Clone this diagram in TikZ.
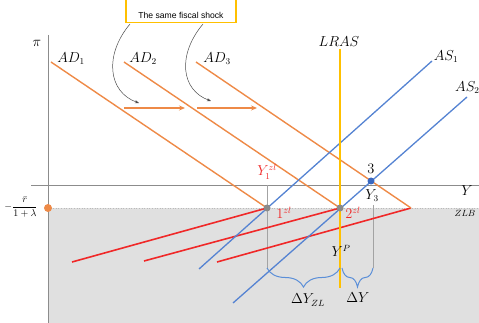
\documentclass[tikz,border=0pt]{standalone}
\usepackage{fontspec}
\newfontfamily\shockfont{Liberation Sans}
\usetikzlibrary{arrows.meta,decorations.pathreplacing,calc}
\definecolor{adorange}{HTML}{EE8A47}
\definecolor{asblue}{HTML}{5583D2}
\definecolor{zlred}{HTML}{F02828}
\definecolor{lrasgold}{HTML}{FFC000}
\definecolor{zlbgray}{HTML}{E0E0E0}
\definecolor{axisgray}{HTML}{8C8C8C}
\definecolor{bracebl}{HTML}{5B8FD8}
\definecolor{dotgray}{HTML}{8A8A8A}
\definecolor{dotblue}{HTML}{3A68C0}
\definecolor{boxyellow}{HTML}{FFC000}
\tikzset{
 adline/.style={draw=adorange, line width=1.4pt},
 zlline/.style={draw=zlred, line width=1.6pt},
 asline/.style={draw=asblue, line width=1.3pt},
 lrasline/.style={draw=lrasgold, line width=2pt},
 axisline/.style={draw=axisgray, line width=0.9pt},
 guide/.style={draw=axisgray!80, line width=0.5pt},
 lbl/.style={font=\fontsize{13.5}{15}\selectfont, inner sep=0pt},
 redlbl/.style={lbl, text=zlred},
 ptdot/.style={circle, inner sep=0pt, minimum size=8pt},
 shockarrow/.style={draw=black!70, line width=0.5pt, -{Stealth[length=4pt,width=3pt]}},
 shiftarrow/.style={draw=adorange, line width=1.2pt, -{Stealth[length=6pt,width=5pt]}},
 bracestyle/.style={draw=bracebl, line width=1pt, decorate, decoration={brace, mirror, amplitude=19pt}},
}
\begin{document}
\begin{tikzpicture}[x=1pt,y=-1pt]
\useasboundingbox (0,0) rectangle (479,323);
% ZLB region
\fill[zlbgray] (48,208) rectangle (479,323);
\coordinate (zlbl) at (48,208);
\coordinate (zlbr) at (479,208);
\draw[axisgray!60, dotted, line width=0.6pt] (zlbl) -- (zlbr);
% axes
\coordinate (ytop) at (48,35);
\coordinate (ybot) at (48,323);
\coordinate (xl) at (31,185);
\coordinate (xr) at (479,185);
\draw[axisline] (ytop) -- (ybot);
\draw[axisline] (xl) -- (xr);
% guide lines
\coordinate (g1t) at (267,185);
\coordinate (g1b) at (267,268);
\coordinate (g3t) at (373,205);
\coordinate (g3b) at (373,268);
\draw[guide] (g1t) -- (g1b);
\draw[guide] (g3t) -- (g3b);
% AD curves with ZLB kinks
\coordinate (ad1s) at (51,62);   \coordinate (k1) at (267,208); \coordinate (r1) at (72,262);
\coordinate (ad2s) at (124,62);  \coordinate (k2) at (340,208); \coordinate (r2) at (144,261);
\coordinate (ad3s) at (196,62);  \coordinate (k3) at (411,208); \coordinate (r3) at (217,262);
\draw[zlline] (k1) -- (r1);
\draw[zlline] (k2) -- (r2);
\draw[zlline] (k3) -- (r3);
\draw[adline] (ad1s) -- (k1);
\draw[adline] (ad2s) -- (k2);
\draw[adline] (ad3s) -- (k3);
% AS curves
\coordinate (as1t) at (432,61);  \coordinate (as1b) at (199,269);
\coordinate (as2t) at (467,97);  \coordinate (as2b) at (233,303);
\draw[asline] (as1t) -- (as1b);
\draw[asline] (as2t) -- (as2b);
% LRAS
\coordinate (lrast) at (340,49);
\coordinate (lrasb) at (340,288);
\draw[lrasline] (lrast) -- (lrasb);
% shift arrows
\coordinate (sh1a) at (124,108); \coordinate (sh1b) at (185,108);
\coordinate (sh2a) at (197,108); \coordinate (sh2b) at (257,108);
\draw[shiftarrow] (sh1a) -- (sh1b);
\draw[shiftarrow] (sh2a) -- (sh2b);
% shock box
\node[draw=boxyellow, line width=1.2pt, fill=white, minimum width=110pt, minimum height=34pt, anchor=south] (shock) at (181,23) {};
\node[font=\shockfont\fontsize{8.6}{10}\selectfont, anchor=base, inner sep=0pt] (shocktxt) at (181,18.3) {The same fiscal shock};
\coordinate (sa1) at ($(shock.south)+(-51,1)$);
\coordinate (sa2) at ($(shock.south)+(22,1)$);
\coordinate (se1) at (139,103);
\coordinate (se2) at (211,101);
\draw[shockarrow] (sa1) .. controls (104,55) and (108,92) .. (se1);
\draw[shockarrow] (sa2) .. controls (177,55) and (181,90) .. (se2);
% braces
\coordinate (b1l) at (267,268); \coordinate (b1r) at (340,268);
\coordinate (b2l) at (342,268); \coordinate (b2r) at (373,268);
\draw[bracestyle] (b1l) -- (b1r);
\draw[bracestyle] (b2l) -- (b2r);
% dots
\node[ptdot, fill=adorange] (zlbdot) at (48,208) {};
\node[ptdot, fill=dotgray, minimum size=7pt] (p1) at (k1) {};
\node[ptdot, fill=dotgray, minimum size=7pt] (p2) at (k2) {};
\node[ptdot, fill=dotblue, minimum size=7pt] (p3) at (371,181) {};
% labels
\node[lbl] (pilbl) at (37,43) {$\pi$};
\node[lbl] (ad1l) at (71,59) {$AD_1$};
\node[lbl] (ad2l) at (143,59) {$AD_2$};
\node[lbl] (ad3l) at (217,59) {$AD_3$};
\node[lbl] (lrasl) at (339,42) {$LRAS$};
\node[lbl] (as1l) at (446,57) {$AS_1$};
\node[lbl, anchor=west] (as2l) at (455,88) {$AS_2$};
\node[lbl] (ylbl) at (467,191) {$Y$};
\node[lbl, font=\fontsize{9.5}{10}\selectfont] (zlbtxt) at (465,213) {$ZLB$};
\node[inner sep=0pt, font=\fontsize{10}{11}\selectfont] (rlbl) at (21,207) {$\displaystyle -\frac{\bar r}{1+\lambda}$};
\node[redlbl] (y1l) at (267,172) {$Y_1^{zl}$};
\node[redlbl] (l1) at (284,213) {$1^{zl}$};
\node[redlbl] (l2) at (353,213) {$2^{zl}$};
\node[lbl] (l3) at (371,169) {$3$};
\node[lbl] (y3l) at (372,196) {$Y_3$};
\node[lbl] (ypl) at (341,251) {$Y^P$};
\node[lbl] (dyzl) at (308,300) {$\Delta Y_{ZL}$};
\node[lbl] (dyl) at (358,298) {$\Delta Y$};
\end{tikzpicture}
\end{document}
